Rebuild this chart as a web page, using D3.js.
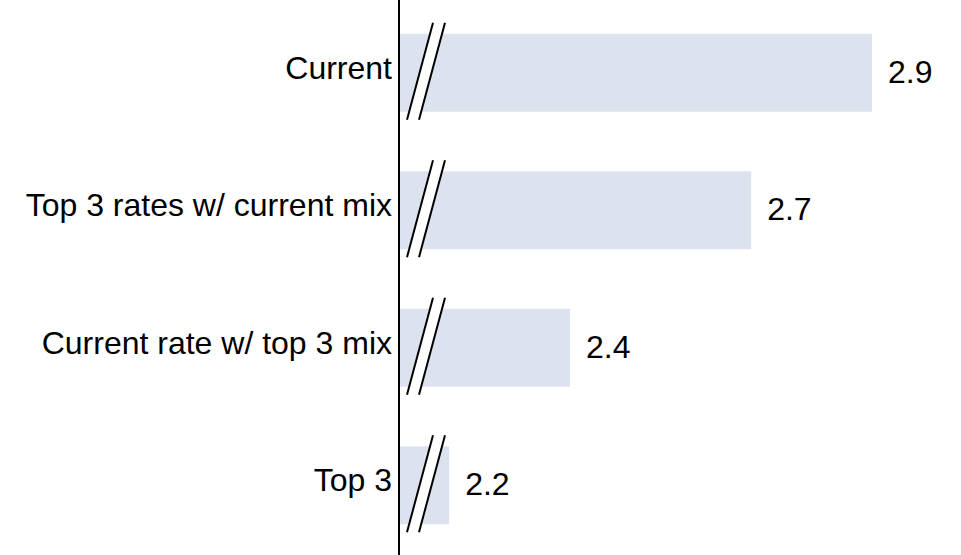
<!DOCTYPE html>
<html>
<head>
<meta charset="utf-8">
<script src="https://cdn.jsdelivr.net/npm/d3@7"></script>
<style>
  html, body { margin: 0; padding: 0; background: #fff; }
  svg { display: block; font-family: "Liberation Sans", Arial, sans-serif; }
</style>
</head>
<body>
<svg id="chart" width="961" height="555"></svg>
<script>
// Scenario categories and their values (truncated axis, shown with break marks)
const categories = ["Current", "Top 3 rates w/ current mix", "Current rate w/ top 3 mix", "Top 3"];
const values = [2.9, 2.7, 2.4, 2.2];
const valueLabels = ["2.9", "2.7", "2.4", "2.2"];

const width = 961, height = 555;
const axisX = 399;
const fontSize = 32;

const svg = d3.select("#chart");

// Axis starts above zero, hence the break symbols on each bar
const x = d3.scaleLinear().domain([2.117, 2.9]).range([axisX, 872]);
const y = d3.scaleBand().domain(categories).range([4, 554]).paddingInner(0.433).paddingOuter(0.2165);

const bars = svg.append("g");
bars.selectAll("rect")
  .data(categories)
  .join("rect")
  .attr("x", axisX)
  .attr("y", d => y(d))
  .attr("width", (d, i) => x(values[i]) - axisX)
  .attr("height", y.bandwidth())
  .attr("fill", "#dde3ee");

// Break marks: white gap between two slanted strokes
const brk = svg.append("g");
categories.forEach(d => {
  const top = y(d) - 11, bot = y(d) + y.bandwidth() + 8;
  const x0b = 407, x0t = 433, gap = 12;
  brk.append("path")
    .attr("d", `M${x0b},${bot} L${x0t},${top} L${x0t + gap},${top} L${x0b + gap},${bot} Z`)
    .attr("fill", "#fff");
  brk.append("line")
    .attr("x1", x0b).attr("y1", bot).attr("x2", x0t).attr("y2", top)
    .attr("stroke", "#000").attr("stroke-width", 2);
  brk.append("line")
    .attr("x1", x0b + gap).attr("y1", bot).attr("x2", x0t + gap).attr("y2", top)
    .attr("stroke", "#000").attr("stroke-width", 2);
});

// Vertical axis line
svg.append("line")
  .attr("x1", axisX).attr("x2", axisX)
  .attr("y1", 0).attr("y2", height)
  .attr("stroke", "#000").attr("stroke-width", 2);

// Category labels
svg.append("g").selectAll("text")
  .data(categories)
  .join("text")
  .attr("x", axisX - 7)
  .attr("y", d => y(d) + y.bandwidth() / 2 - 5)
  .attr("dy", "0.35em")
  .attr("text-anchor", "end")
  .attr("font-size", fontSize)
  .attr("fill", "#000")
  .text(d => d);

// Value labels
svg.append("g").selectAll("text")
  .data(categories)
  .join("text")
  .attr("x", (d, i) => x(values[i]) + 16)
  .attr("y", d => y(d) + y.bandwidth() / 2 - 1)
  .attr("dy", "0.35em")
  .attr("font-size", fontSize)
  .attr("fill", "#000")
  .text((d, i) => valueLabels[i]);
</script>
</body>
</html>
